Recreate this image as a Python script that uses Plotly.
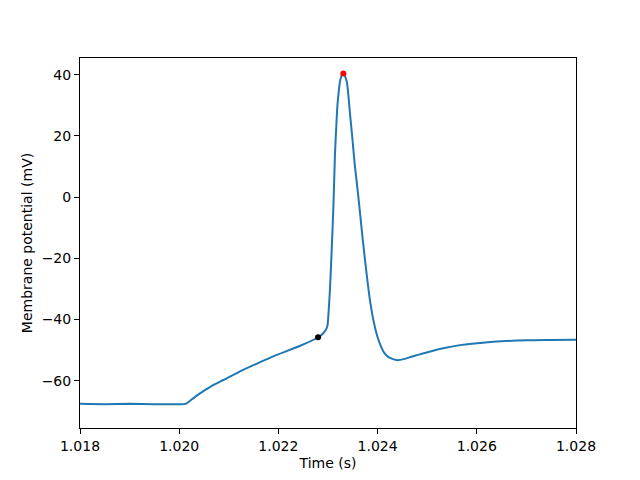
import plotly.graph_objects as go

# membrane trace (time in s, voltage in mV)
time_s = [1.0180, 1.0185, 1.0190, 1.0195, 1.0200, 1.02013, 1.02025, 1.02042,
          1.02065, 1.02089, 1.02129, 1.02160, 1.02197, 1.02244, 1.02280,
          1.02290, 1.02296, 1.02299, 1.02301, 1.02304, 1.02307, 1.02311,
          1.02314, 1.02317, 1.02319, 1.02322, 1.02324, 1.02327, 1.02329,
          1.02331, 1.02333, 1.02335, 1.02338, 1.02341, 1.02344, 1.02349,
          1.02354, 1.02360, 1.02365, 1.02370, 1.02375, 1.02380, 1.02385,
          1.02390, 1.02395, 1.02400, 1.02406, 1.02411, 1.02418, 1.02425,
          1.02438, 1.02455, 1.02470, 1.02499, 1.02530, 1.02566, 1.02600,
          1.02633, 1.02701, 1.02750, 1.0280]
voltage_mv = [-67.6, -67.7, -67.6, -67.7, -67.7, -67.6, -66.2, -64.2,
              -61.8, -59.8, -56.5, -54.2, -51.6, -48.6, -45.9,
              -44.6, -43.3, -42.0, -38.0, -30.0, -19.0, -2.6,
              13.7, 24.0, 30.0, 35.0, 37.7, 39.6, 40.2,
              40.4, 40.1, 39.3, 37.7, 33.5, 27.9, 19.5,
              10.5, 2.0, -5.9, -13.8, -21.1, -28.0, -34.2,
              -39.0, -42.8, -45.8, -48.5, -50.3, -51.8, -52.6,
              -53.3, -52.9, -52.1, -50.8, -49.5, -48.4, -47.8,
              -47.3, -46.8, -46.7, -46.6]

threshold_t = [1.02280]
threshold_v = [-45.8]
peak_t = [1.02331]
peak_v = [40.4]

fig = go.Figure()
fig.add_trace(go.Scatter(x=time_s, y=voltage_mv, mode="lines",
                         line=dict(color="#1f77b4", width=2, shape="spline", smoothing=0.6)))
fig.add_trace(go.Scatter(x=threshold_t, y=threshold_v, mode="markers",
                         marker=dict(color="black", size=6)))
fig.add_trace(go.Scatter(x=peak_t, y=peak_v, mode="markers",
                         marker=dict(color="red", size=6)))

axis_style = dict(showgrid=False, zeroline=False, showline=True, linecolor="black",
                  linewidth=1, mirror=True, ticks="outside", ticklen=5,
                  tickcolor="black", tickfont=dict(size=14, color="black"),
                  automargin=False)

# the page body adds 8px, so margins are shifted to compensate
fig.update_layout(
    width=640, height=480,
    margin=dict(l=72, r=72, t=50, b=60),
    plot_bgcolor="white", paper_bgcolor="white",
    font=dict(family="DejaVu Sans", size=14, color="black"),
    showlegend=False,
    xaxis=dict(range=[1.018, 1.028], tickvals=[1.018, 1.020, 1.022, 1.024, 1.026, 1.028],
               tickformat=".3f",
               title=dict(text="Time (s)", standoff=5, font=dict(size=14)), **axis_style),
    yaxis=dict(range=[-75.5, 45.5], tickvals=[-60, -40, -20, 0, 20, 40],
               title=dict(text="Membrane potential (mV)", standoff=5, font=dict(size=14)),
               **axis_style),
)

fig.write_html("out.html")
